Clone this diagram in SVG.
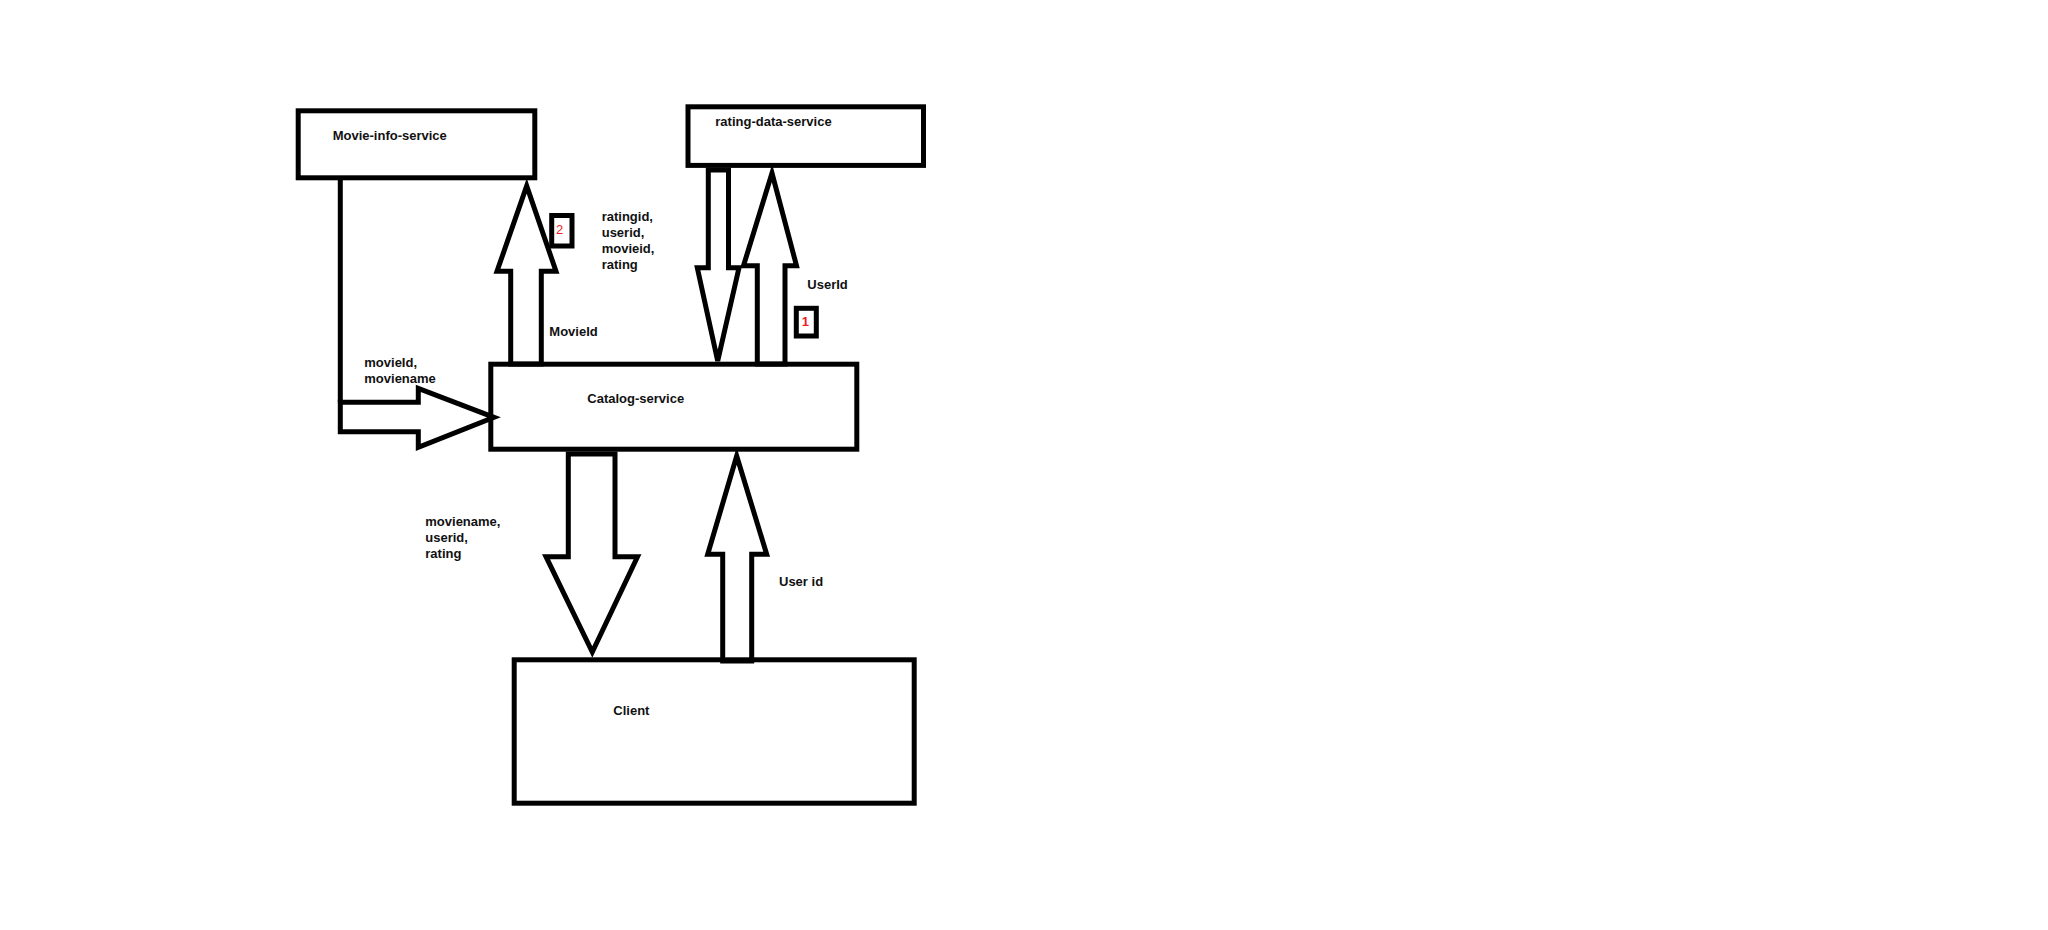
<svg xmlns="http://www.w3.org/2000/svg" width="2048" height="930" viewBox="0 0 2048 930">
<style>
.box{fill:none;stroke:#000;stroke-width:5}
.arr{fill:#fff;stroke:#000;stroke-width:5;stroke-linejoin:miter}
.ln{fill:none;stroke:#000;stroke-width:5}
.t{font-family:"Liberation Sans",Arial,sans-serif;font-weight:bold;font-size:13px;fill:#111}
.r{font-family:"Liberation Sans",Arial,sans-serif;font-size:13px;fill:#ed1c24}
</style>
<rect x="0" y="0" width="2048" height="930" fill="#fff"/>
<g id="connectors">
  <path class="ln" d="M340.3 178 V402.3"/>
  <polygon class="arr" points="340.3,402.3 418.3,402.3 418.3,388.3 494,417.3 418.3,447.3 418.3,431.7 340.3,431.7"/>
  <polygon class="arr" points="510.7,364 510.7,271.3 497,271.3 526.7,186 556,271.3 541.3,271.3 541.3,364"/>
  <polygon class="arr" points="708.3,170 708.3,267.7 697.3,267.7 717.7,361 739,267.7 728.5,267.7 728.5,170"/>
  <polygon class="arr" points="757.3,364 757.3,265.7 743.5,265.7 772,173 796.5,265.7 785,265.7 785,364"/>
  <polygon class="arr" points="568.3,454 568.3,556.7 546,556.7 592.3,652 637.5,556.7 615,556.7 615,454"/>
  <polygon class="arr" points="722.7,661 722.7,554.3 707.7,554.3 736.7,456 766.7,554.3 751.7,554.3 751.7,661"/>
</g>
<g id="movie-info-service">
  <rect class="box" x="298.2" y="110.8" width="236.6" height="67"/>
  <text class="t" x="332.7" y="140">Movie-info-service</text>
</g>
<g id="rating-data-service">
  <rect class="box" x="688" y="106.8" width="235.5" height="58.6"/>
  <text class="t" x="715.3" y="125.7">rating-data-service</text>
</g>
<g id="catalog-service">
  <rect class="box" x="490.8" y="364.2" width="366" height="85"/>
  <text class="t" x="587.3" y="403.3">Catalog-service</text>
</g>
<g id="client">
  <rect class="box" x="514.2" y="659.8" width="400" height="143.4"/>
  <text class="t" x="613.3" y="715">Client</text>
</g>
<g id="step-2">
  <rect class="box" x="551.7" y="215.5" width="20.3" height="30.5"/>
  <text class="r" x="556" y="234.3">2</text>
</g>
<g id="step-1">
  <rect class="box" x="796.3" y="308.3" width="20" height="27.7"/>
  <text class="r" x="801.7" y="326" font-weight="bold">1</text>
</g>
<g id="labels">
  <text class="t" x="601.7" y="221">ratingid,</text>
  <text class="t" x="601.7" y="237">userid,</text>
  <text class="t" x="601.7" y="253">movieid,</text>
  <text class="t" x="601.7" y="269">rating</text>
  <text class="t" x="549.3" y="335.7">MovieId</text>
  <text class="t" x="807.3" y="289">UserId</text>
  <text class="t" x="364.3" y="366.7">movieId,</text>
  <text class="t" x="364.3" y="382.7">moviename</text>
  <text class="t" x="425.3" y="526">moviename,</text>
  <text class="t" x="425.3" y="542">userid,</text>
  <text class="t" x="425.3" y="558">rating</text>
  <text class="t" x="779" y="585.7">User id</text>
</g>
</svg>
